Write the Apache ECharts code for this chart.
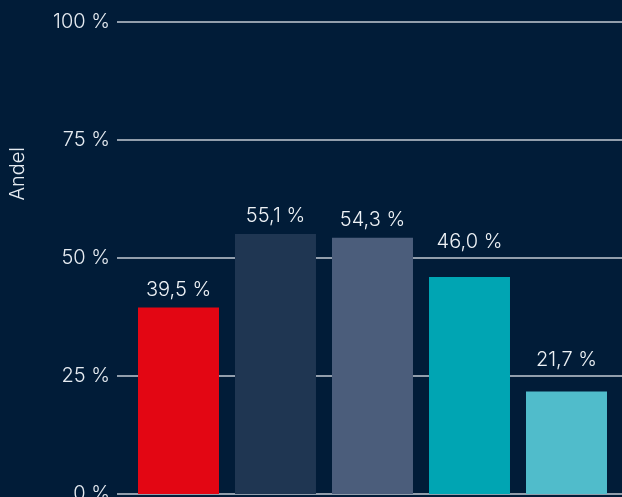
<!DOCTYPE html>
<html>
<head>
<meta charset="utf-8">
<script src="https://cdn.jsdelivr.net/npm/echarts@6/dist/echarts.min.js"></script>
<style>
  html, body { margin: 0; padding: 0; background: #011c38; }
  #chart { width: 622px; height: 497px; }
</style>
</head>
<body>
<div id="chart"></div>
<script>
// data
const categories = ['A', 'B', 'C', 'D', 'E']
const shares = [39.5, 55.1, 54.3, 46.0, 21.7]
const barColors = ['#e30613', '#1f3652', '#4b5d7b', '#00a5b3', '#50bccb']
const yTicks = [0, 25, 50, 75, 100]

const fmt = v => v.toFixed(1).replace('.', ',') + ' %'

const gridTop = 22
const gridBottom = 3
const plotH = 497 - gridTop - gridBottom
const pxPer = plotH / 100
const baseDist = 8

// push a label up above a gridline if it would sit on top of it
function labelDistance(v) {
  const barTop = v * pxPer
  const lo = barTop + baseDist
  const hi = lo + 22
  let d = baseDist
  yTicks.forEach(t => {
    const g = t * pxPer
    if (g > lo - 3 && g < hi) d = g - barTop + 6
  })
  return d
}

const chart = echarts.init(document.getElementById('chart'))
chart.setOption({
  backgroundColor: '#011c38',
  textStyle: { fontFamily: 'Inter', fontWeight: 300 },
  grid: [
    // grid for lines + y labels
    { left: 117, right: 0, top: gridTop, bottom: gridBottom, outerBoundsMode: 'none', containLabel: false },
    // grid for bars
    { left: 130, right: 7, top: gridTop, bottom: gridBottom, outerBoundsMode: 'none', containLabel: false }
  ],
  graphic: [{
    type: 'text',
    left: 8,
    top: 147,
    rotation: Math.PI / 2,
    style: { text: 'Andel', fill: '#e6ebf1', font: '300 20px Inter' }
  }],
  xAxis: [
    { gridIndex: 0, type: 'value', show: false, min: 0, max: 1 },
    {
      gridIndex: 1,
      type: 'category',
      data: categories,
      axisLine: { show: false },
      axisTick: { show: false },
      axisLabel: { show: false }
    }
  ],
  yAxis: [
    {
      gridIndex: 0,
      type: 'value',
      min: yTicks[0],
      max: yTicks[yTicks.length - 1],
      interval: 25,
      axisLine: { show: false },
      axisTick: { show: false },
      axisLabel: {
        color: '#e6ebf1',
        fontSize: 20,
        fontWeight: 300,
        margin: 7,
        formatter: v => v + ' %'
      },
      splitLine: { lineStyle: { color: '#c3cad3', width: 1.6 } }
    },
    {
      gridIndex: 1,
      type: 'value',
      min: 0,
      max: 100,
      show: false,
      splitLine: { show: false }
    }
  ],
  series: [{
    type: 'bar',
    xAxisIndex: 1,
    yAxisIndex: 1,
    barCategoryGap: '16.5%',
    data: shares.map((v, i) => ({
      value: v,
      itemStyle: { color: barColors[i] },
      label: { distance: labelDistance(v) }
    })),
    label: {
      show: true,
      position: 'top',
      color: '#eef2f6',
      fontSize: 20,
      fontWeight: 300,
      formatter: p => fmt(p.value)
    },
    animation: false
  }]
})
</script>
</body>
</html>
